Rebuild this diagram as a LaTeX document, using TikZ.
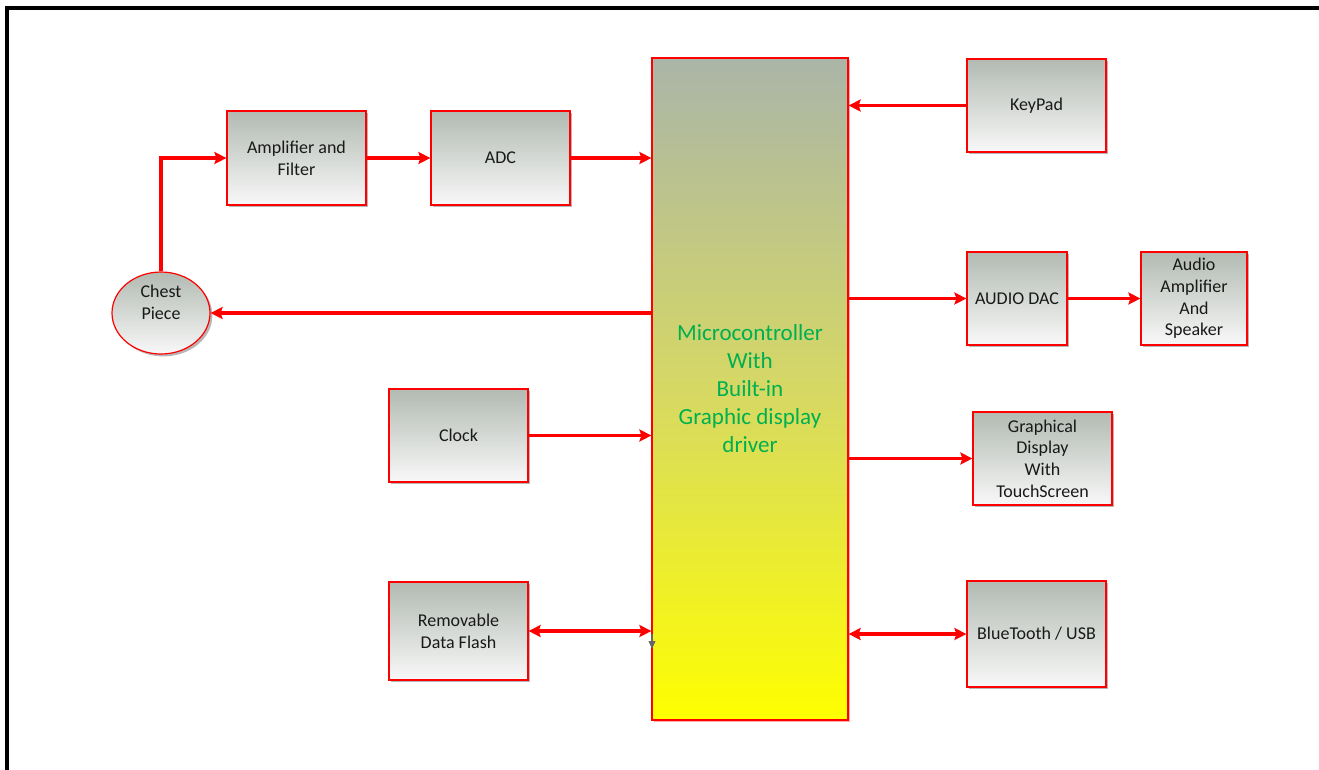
\documentclass[tikz,border=0pt]{standalone}
\usepackage{fontspec}
\setmainfont{Carlito}
\usetikzlibrary{arrows.meta,shapes.geometric,shadows}
\definecolor{boxtop}{RGB}{178,186,178}
\definecolor{boxbot}{RGB}{248,248,248}
\definecolor{mcutop}{RGB}{170,181,168}
\definecolor{mcumid}{RGB}{214,216,100}
\definecolor{mcubot}{RGB}{255,255,0}
\definecolor{mcutext}{RGB}{0,176,80}
\definecolor{txt}{RGB}{25,25,25}
\tikzset{
  blockbox/.style={rectangle, draw=red, line width=0.9pt, top color=boxtop, bottom color=boxbot,
    align=center, text=txt, font=\fontsize{13.5}{16.3}\selectfont, inner sep=2pt,
    drop shadow={shadow xshift=1.8pt, shadow yshift=-1.8pt, fill=black!40, opacity=0.7}},
  conn/.style={draw=red, line width=2.3pt},
  tip/.style={-{Stealth[length=9pt,width=9pt,inset=1.5pt]}},
  tips/.style={{Stealth[length=9pt,width=9pt,inset=1.5pt]}-{Stealth[length=9pt,width=9pt,inset=1.5pt]}},
}
\begin{document}
\begin{tikzpicture}[x=0.75pt,y=-0.75pt]
\useasboundingbox (0,0) rectangle (1319,769);
\fill[white] (0,0) rectangle (1319,769);
\draw[line width=2.4pt] (7,775) -- (7,8) -- (1325,8);

% nodes
\node[blockbox, minimum width=104.25pt, minimum height=70.5pt] (amp) at (296.5,158) {Amplifier and\\Filter};
\node[blockbox, minimum width=104.25pt, minimum height=70.5pt] (adc) at (500.5,158) {ADC};
\node[ellipse, draw=red, line width=0.9pt, top color=boxtop, bottom color=boxbot,
  minimum width=73.5pt, minimum height=61.5pt, inner sep=0pt,
  drop shadow={shadow xshift=1.8pt, shadow yshift=-1.8pt, fill=black!40, opacity=0.7},
  label={[align=center, text=txt, font=\fontsize{13.5}{16.3}\selectfont, yshift=8pt]center:Chest\\Piece}] (chest) at (161,313) {};
\node[rectangle, draw=red, line width=0.9pt, minimum width=147pt, minimum height=496.5pt,
  shading=axis, top color=mcutop, bottom color=mcubot, middle color=mcumid,
  drop shadow={shadow xshift=1.8pt, shadow yshift=-1.8pt, fill=red!40, opacity=0.8},
  align=center, text=mcutext, font=\fontsize{17.3}{21}\selectfont] (mcu) at (750,389)
  {Microcontroller\\With\\Built-in\\Graphic display\\driver};
\node[blockbox, minimum width=104.25pt, minimum height=69.75pt] (kp) at (1036.5,105.5) {KeyPad};
\node[blockbox, minimum width=75pt, minimum height=69.75pt] (dac) at (1017,298.5) {AUDIO DAC};
\node[blockbox, minimum width=79.5pt, minimum height=69.75pt] (aamp) at (1194,298.5) {Audio\\Amplifier\\And\\Speaker};
\node[blockbox, minimum width=104.25pt, minimum height=69.75pt] (gd) at (1042.5,458.5) {Graphical\\Display\\With\\TouchScreen};
\node[blockbox, minimum width=104.25pt, minimum height=79.5pt] (bt) at (1036.5,634) {BlueTooth / USB};
\node[blockbox, minimum width=104.25pt, minimum height=69.75pt] (clk) at (458.5,435.5) {Clock};
\node[blockbox, minimum width=104.25pt, minimum height=73.5pt] (flash) at (458.5,631) {Removable\\Data Flash};

% connectors
\draw[conn, tip] (chest.north) |- (amp.west);
\draw[conn, tip] (amp.east) -- (adc.west);
\draw[conn, tip] (adc.east) -- (adc.east -| mcu.west);
\draw[conn, tip] (mcu.west |- chest.east) -- (chest.east);
\draw[conn, tip] (clk.east) -- (clk.east -| mcu.west);
\draw[conn, tips] (flash.east) -- (flash.east -| mcu.west);
\draw[conn, tip] (kp.west) -- (kp.west -| mcu.east);
\draw[conn, tip] (mcu.east |- dac.west) -- (dac.west);
\draw[conn, tip] (dac.east) -- (aamp.west);
\draw[conn, tip] (mcu.east |- gd.west) -- (gd.west);
\draw[conn, tips] (mcu.east |- bt.west) -- (bt.west);
\coordinate (gm1) at (652,634);
\coordinate (gm2) at (652,649);
\draw[gray!80!black, line width=1pt, -{Triangle[length=6pt,width=5pt]}] (gm1) -- (gm2);
\end{tikzpicture}
\end{document}
